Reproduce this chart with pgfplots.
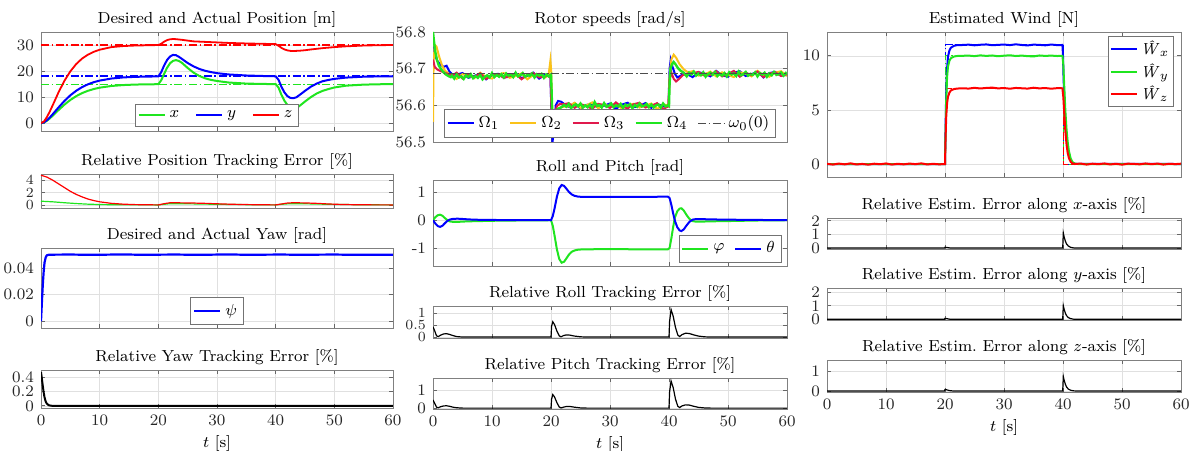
\documentclass[border=0pt]{standalone}
\usepackage{fontspec}
\usepackage{pgfplots}
\pgfplotsset{compat=1.18}
\definecolor{mblue}{rgb}{0,0,1}
\definecolor{mgreen}{rgb}{0.12,0.9,0.12}
\definecolor{mred}{rgb}{1,0,0}
\definecolor{myellow}{rgb}{0.98,0.76,0.1}
\definecolor{mcrimson}{rgb}{0.88,0.1,0.3}
\newcommand{\fs}{\fontsize{8}{9}\selectfont}
\newcommand{\fss}{\fontsize{7}{7.5}\selectfont}
\pgfplotsset{
  mystyle/.style={
    scale only axis, anchor=south west,
    xmin=0, xmax=60, xtick={0,10,20,30,40,50,60}, xticklabels={},
    grid=major, major grid style={draw=black!12, line width=0.3pt},
    axis line style={draw=black!50, line width=0.4pt},
    every tick/.style={black!60, line width=0.4pt},
    major tick length=2.2pt, tick align=inside,
    tick label style={font=\fs, text=black!85},
    title style={font=\fs, at={(0.5,1)}, anchor=south, yshift=-7.5pt},
    legend style={font=\fs, draw=black!55, line width=0.4pt, fill=white, inner sep=1.2pt,
      /tikz/every even column/.append style={column sep=3pt}},
    legend cell align=left,
    legend image code/.code={\draw[#1] (0pt,0pt) -- (13pt,0pt);},
    every axis plot/.append style={no markers},
    scaled y ticks=false,
  },
  botx/.style={xticklabels={0,10,20,30,40,50,60}, xlabel={$t$ [s]}, xlabel style={font=\fs, yshift=2pt}},
  dd/.style={dash pattern=on 4pt off 1.3pt on 0.8pt off 1.3pt},
}
\begin{document}
\begin{tikzpicture}
\useasboundingbox (0,0) rectangle (599.5pt,225pt);
% ---------------- Left column ----------------
\begin{axis}[mystyle, at={(20.5pt,159.5pt)}, width=176pt, height=49.5pt,
  ymin=-3, ymax=35, ytick={0,10,20,30}, yticklabels={0,10,20,30},
  title={Desired and Actual Position [m]},
  legend style={at={(0.5,0.04)}, anchor=south, /tikz/every even column/.append style={column sep=6pt}}, legend columns=3]
\addplot[forget plot, mred, dd, line width=0.6pt] coordinates {(0,30) (60,30)};
\addplot[forget plot, mblue, dd, line width=0.8pt] coordinates {(0,18) (60,18)};
\addplot[forget plot, mgreen, dd, line width=0.6pt] coordinates {(0,15) (60,15)};
\addplot[mgreen, line width=1pt] coordinates {(0,0) (0.5,0.26) (1,0.92) (1.5,1.83) (2,2.87) (3,5.06) (4,7.13) (5,8.91) (6,10.37) (7,11.54) (8,12.43) (9,13.11) (10,13.63) (12,14.28) (14,14.63) (16,14.82) (18,14.91) (20,14.96) (20.5,16.5) (21,19) (21.5,21.3) (22,23) (22.5,23.9) (23,24.2) (23.5,23.9) (24,23.2) (25,21.2) (26,19.4) (27,18.1) (28,17.2) (29,16.6) (30,16.2) (32,15.6) (35,15.2) (38,15.05) (40,15.0) (40.5,13.6) (41,10.8) (41.5,8.6) (42,7.0) (42.5,6.1) (43,5.8) (43.5,5.95) (44,6.5) (45,8.3) (46,10) (47,11.4) (48,12.4) (49,13.1) (50,13.7) (52,14.4) (55,14.8) (58,14.95) (60,15)};
\addlegendentry{$x$}
\addplot[mblue, line width=1pt] coordinates {(0,0) (0.5,0.32) (1,1.11) (1.5,2.2) (2,3.44) (3,6.07) (4,8.55) (5,10.69) (6,12.45) (7,13.84) (8,14.92) (9,15.74) (10,16.35) (12,17.14) (14,17.56) (16,17.78) (18,17.89) (20,17.95) (20.5,19.6) (21,22.2) (21.5,24.3) (22,25.6) (22.5,26.2) (23,26.1) (23.5,25.5) (24,24.7) (25,23.1) (26,21.8) (27,20.8) (28,20.1) (29,19.6) (30,19.2) (32,18.7) (35,18.3) (38,18.1) (40,18.0) (40.5,16.6) (41,13.9) (41.5,11.8) (42,10.4) (42.5,9.7) (43,9.6) (43.5,9.9) (44,10.7) (45,12.4) (46,14.0) (47,15.2) (48,16.1) (49,16.6) (50,17.0) (52,17.5) (55,17.85) (58,17.97) (60,18)};
\addlegendentry{$y$}
\addplot[mred, line width=0.9pt] coordinates {(0,0) (0.5,0.66) (1,2.3) (1.5,4.5) (2,6.9) (3,11.9) (4,16.3) (5,19.9) (6,22.7) (7,24.8) (8,26.3) (9,27.4) (10,28.2) (12,29.2) (14,29.6) (16,29.8) (18,29.9) (20,30) (20.5,30.5) (21,31.3) (21.5,31.9) (22,32.2) (22.5,32.3) (23,32.25) (24,32.0) (25,31.7) (26,31.4) (28,31.2) (30,31.0) (32,30.8) (35,30.6) (38,30.45) (40,30.35) (40.5,29.7) (41,28.9) (41.5,28.3) (42,27.95) (42.5,27.75) (43,27.7) (44,27.8) (45,28.0) (46,28.3) (48,28.8) (50,29.2) (52,29.5) (55,29.8) (58,29.95) (60,30)};
\addlegendentry{$z$}
\end{axis}
\begin{axis}[mystyle, at={(20.5pt,121pt)}, width=176pt, height=17pt,
  ymin=-0.5, ymax=5, ytick={0,2,4}, yticklabels={0,2,4}, yticklabel style={font=\fss},
  title={Relative Position Tracking Error [\%]}]
\addplot[mgreen, line width=0.6pt] coordinates {(0,0.6) (2,0.5) (4,0.35) (6,0.22) (8,0.12) (10,0.06) (12,0.03) (15,0.01) (20,0) (21,0.1) (22,0.2) (25,0.18) (30,0.1) (35,0.04) (40,0) (41,0.1) (42.5,0.2) (45,0.18) (50,0.08) (55,0.02) (60,0)};
\addplot[mred, line width=0.6pt] coordinates {(0,4.8) (1,4.5) (2,4.0) (3,3.4) (4,2.8) (5,2.2) (6,1.7) (7,1.3) (8,0.95) (9,0.7) (10,0.5) (12,0.25) (14,0.12) (16,0.05) (18,0.02) (20,0) (21,0.2) (22,0.35) (24,0.33) (26,0.3) (28,0.25) (30,0.18) (32,0.12) (34,0.07) (36,0.04) (38,0.02) (40,0) (41,0.15) (42,0.3) (43,0.35) (45,0.32) (47,0.25) (49,0.15) (51,0.08) (53,0.04) (56,0.01) (60,0)};
\end{axis}
\begin{axis}[mystyle, at={(20.5pt,61pt)}, width=176pt, height=40pt,
  ymin=-0.005, ymax=0.055, ytick={0,0.02,0.04}, yticklabels={0,0.02,0.04},
  title={Desired and Actual Yaw [rad]},
  legend style={at={(0.5,0.04)}, anchor=south}]
\addplot[mblue, line width=1.1pt] coordinates {(0,0) (0.15,0.014) (0.3,0.027) (0.45,0.037) (0.6,0.044) (0.8,0.048) (1.0,0.0495) (1.3,0.0499) (2,0.05) (5,0.0501) (8,0.0499) (11,0.0500) (14,0.0502) (17,0.0499) (20,0.0500) (23,0.0501) (26,0.0499) (29,0.0500) (32,0.0502) (35,0.0499) (38,0.0500) (41,0.0501) (44,0.0499) (47,0.0500) (50,0.0501) (53,0.0499) (56,0.0500) (60,0.05)};
\addlegendentry{$\psi$}
\end{axis}
\begin{axis}[mystyle, botx, at={(20.5pt,21pt)}, width=176pt, height=19pt,
  ymin=-0.03, ymax=0.5, ytick={0,0.2,0.4}, yticklabels={0,0.2,0.4},
  title={Relative Yaw Tracking Error [\%]}]
\addplot[black, line width=1pt] coordinates {(0,0.47) (0.15,0.38) (0.3,0.28) (0.45,0.19) (0.6,0.12) (0.8,0.06) (1.0,0.03) (1.3,0.01) (1.6,0.003) (2,0) (60,0)};
\end{axis}
% ---------------- Middle column ----------------
\begin{axis}[mystyle, at={(216.5pt,154pt)}, width=177pt, height=55pt,
  ymin=56.5, ymax=56.8, ytick={56.5,56.6,56.7,56.8}, yticklabels={56.5,56.6,56.7,56.8},
  title={Rotor speeds [rad/s]},
  legend style={at={(0.5,0.04)}, anchor=south}, legend columns=5]
\addplot[mblue, line width=1pt] coordinates {(0,56.760) (0.3,56.740) (0.7,56.722) (1.2,56.712) (1.8,56.705) (2.3,56.708) (2.8,56.692) (3.3,56.684) (4,56.684) (5,56.688) (6,56.675) (7,56.680) (8,56.687) (9,56.671) (10,56.683) (11,56.686) (12,56.676) (13,56.678) (14,56.688) (15,56.674) (16,56.681) (17,56.689) (18,56.673) (19,56.684) (19.9,56.683) (20.1,56.560) (20.25,56.500) (20.5,56.530) (20.8,56.600) (21.2,56.612) (21.7,56.610) (22.3,56.603) (23,56.596) (24,56.606) (25,56.591) (26,56.601) (27,56.604) (28,56.594) (29,56.599) (30,56.605) (31,56.590) (32,56.602) (33,56.607) (34,56.595) (35,56.598) (36,56.606) (37,56.593) (38,56.604) (39,56.597) (39.9,56.598) (40.1,56.700) (40.3,56.724) (40.6,56.705) (41.0,56.686) (41.4,56.676) (41.9,56.680) (42.5,56.686) (43.2,56.684) (44,56.677) (45,56.690) (46,56.687) (47,56.679) (48,56.694) (49,56.682) (50,56.678) (51,56.689) (52,56.693) (53,56.680) (54,56.685) (55,56.692) (56,56.676) (57,56.688) (58,56.691) (59,56.681) (60,56.683)};
\addlegendentry{$\Omega_1$}
\addplot[myellow, line width=1pt] coordinates {(0,56.555) (0.1,56.720) (0.3,56.765) (0.6,56.760) (1.0,56.735) (1.5,56.710) (2,56.695) (3,56.682) (4,56.672) (5,56.685) (6,56.682) (7,56.674) (8,56.689) (9,56.677) (10,56.673) (11,56.684) (12,56.688) (13,56.675) (14,56.680) (15,56.687) (16,56.671) (17,56.683) (18,56.686) (19,56.676) (19.6,56.684) (19.9,56.722) (20.05,56.690) (20.15,56.600) (20.3,56.565) (20.6,56.578) (21.0,56.590) (22.0,56.596) (23,56.597) (24,56.607) (25,56.593) (26,56.600) (27,56.608) (28,56.592) (29,56.603) (30,56.596) (31,56.606) (32,56.591) (33,56.601) (34,56.604) (35,56.594) (36,56.599) (37,56.605) (38,56.590) (39,56.602) (39.9,56.600) (40.1,56.680) (40.4,56.725) (40.8,56.738) (41.2,56.730) (41.8,56.712) (42.5,56.698) (43.2,56.690) (44,56.693) (45,56.681) (46,56.684) (47,56.692) (48,56.679) (49,56.690) (50,56.683) (51,56.677) (52,56.690) (53,56.687) (54,56.679) (55,56.694) (56,56.682) (57,56.678) (58,56.689) (59,56.693) (60,56.680)};
\addlegendentry{$\Omega_2$}
\addplot[mcrimson, line width=1pt] coordinates {(0,56.725) (0.3,56.705) (0.7,56.698) (1.2,56.694) (1.8,56.690) (2.5,56.686) (3.3,56.682) (4,56.689) (5,56.673) (6,56.684) (7,56.677) (8,56.687) (9,56.672) (10,56.682) (11,56.685) (12,56.675) (13,56.680) (14,56.686) (15,56.671) (16,56.683) (17,56.688) (18,56.676) (19,56.679) (19.9,56.681) (20.1,56.580) (20.3,56.545) (20.6,56.575) (21.0,56.598) (21.5,56.604) (22.2,56.603) (23,56.606) (24,56.593) (25,56.604) (26,56.597) (27,56.591) (28,56.604) (29,56.601) (30,56.593) (31,56.608) (32,56.596) (33,56.592) (34,56.603) (35,56.607) (36,56.594) (37,56.599) (38,56.606) (39,56.590) (39.9,56.597) (40.1,56.670) (40.4,56.690) (40.8,56.672) (41.2,56.665) (41.7,56.672) (42.3,56.682) (43.0,56.686) (44,56.688) (45,56.691) (46,56.681) (47,56.683) (48,56.693) (49,56.679) (50,56.686) (51,56.694) (52,56.678) (53,56.689) (54,56.682) (55,56.692) (56,56.677) (57,56.687) (58,56.690) (59,56.680) (60,56.685)};
\addlegendentry{$\Omega_3$}
\addplot[mgreen, line width=1.2pt] coordinates {(0,56.800) (0.2,56.770) (0.4,56.745) (0.7,56.722) (1.0,56.708) (1.4,56.698) (1.8,56.690) (2.2,56.684) (2.6,56.680) (3.0,56.677) (3.2,56.681) (3.6,56.673) (4.0,56.684) (4.4,56.676) (4.8,56.679) (5.2,56.672) (5.6,56.682) (6.0,56.677) (6.4,56.685) (6.8,56.674) (7.2,56.680) (7.6,56.675) (8.0,56.683) (8.4,56.671) (8.8,56.678) (9.2,56.682) (9.6,56.676) (10.0,56.688) (10.4,56.677) (10.8,56.683) (11.2,56.678) (11.6,56.685) (12.0,56.676) (12.4,56.687) (12.8,56.681) (13.2,56.684) (13.6,56.677) (14.0,56.689) (14.4,56.679) (14.8,56.682) (15.2,56.688) (15.6,56.678) (16.0,56.683) (16.4,56.680) (16.8,56.687) (17.2,56.676) (17.6,56.685) (18.0,56.681) (18.4,56.686) (18.8,56.675) (19.2,56.684) (19.6,56.679) (20.0,56.684) (20.1,56.640) (20.2,56.585) (20.4,56.572) (20.7,56.580) (21.0,56.588) (21.4,56.592) (21.8,56.595) (22.2,56.601) (22.6,56.596) (23.0,56.604) (23.4,56.592) (23.8,56.599) (24.2,56.603) (24.6,56.597) (25.0,56.605) (25.4,56.594) (25.8,56.600) (26.2,56.595) (26.6,56.602) (27.0,56.593) (27.4,56.609) (27.8,56.598) (28.2,56.601) (28.6,56.594) (29.0,56.606) (29.4,56.596) (29.8,56.599) (30.2,56.605) (30.6,56.595) (31.0,56.600) (31.4,56.597) (31.8,56.604) (32.2,56.593) (32.6,56.602) (33.0,56.598) (33.4,56.603) (33.8,56.592) (34.2,56.601) (34.6,56.596) (35.0,56.605) (35.4,56.597) (35.8,56.599) (36.2,56.604) (36.6,56.595) (37.0,56.602) (37.4,56.594) (37.8,56.600) (38.2,56.602) (38.6,56.594) (39.0,56.605) (39.4,56.597) (39.8,56.600) (40.0,56.598) (40.1,56.660) (40.25,56.700) (40.5,56.712) (40.8,56.718) (41.1,56.712) (41.5,56.702) (42.0,56.694) (42.5,56.689) (43.0,56.679) (43.4,56.689) (43.8,56.684) (44.2,56.692) (44.6,56.681) (45.0,56.687) (45.4,56.682) (45.8,56.690) (46.2,56.678) (46.6,56.685) (47.0,56.689) (47.4,56.683) (47.8,56.691) (48.2,56.680) (48.6,56.686) (49.0,56.681) (49.4,56.688) (49.8,56.679) (50.2,56.690) (50.6,56.684) (51.0,56.687) (51.4,56.680) (51.8,56.692) (52.2,56.682) (52.6,56.685) (53.0,56.691) (53.4,56.681) (53.8,56.686) (54.2,56.683) (54.6,56.690) (55.0,56.679) (55.4,56.688) (55.8,56.684) (56.2,56.689) (56.6,56.678) (57.0,56.687) (57.4,56.682) (57.8,56.691) (58.2,56.683) (58.6,56.685) (59.0,56.690) (59.4,56.681) (59.8,56.688) (60.0,56.684)};
\addlegendentry{$\Omega_4$}
\addplot[black!70, dd, line width=0.6pt] coordinates {(0,56.686) (60,56.686)};
\addlegendentry{$\omega_0(0)$}
\end{axis}
\begin{axis}[mystyle, at={(216.5pt,92pt)}, width=177pt, height=43pt,
  ymin=-1.65, ymax=1.45, ytick={-1,0,1}, yticklabels={-1,0,1},
  title={Roll and Pitch [rad]},
  legend style={at={(0.985,0.04)}, anchor=south east}, legend columns=2]
\addplot[mgreen, line width=1pt] coordinates {(0,0) (0.4,0.11) (0.8,0.18) (1.2,0.2) (1.6,0.16) (2.0,0.08) (2.4,0.01) (2.8,-0.04) (3.4,-0.06) (4.2,-0.06) (5,-0.05) (6,-0.04) (8,-0.03) (10,-0.02) (14,-0.01) (20,0) (20.3,-0.2) (20.6,-0.55) (21.0,-1.05) (21.4,-1.4) (21.8,-1.53) (22.2,-1.5) (22.6,-1.38) (23.0,-1.25) (23.5,-1.14) (24.0,-1.09) (24.6,-1.06) (25.5,-1.05) (30,-1.04) (35,-1.05) (39.8,-1.05) (40.1,-1.0) (40.4,-0.65) (40.7,-0.25) (41.0,0.1) (41.4,0.32) (41.8,0.42) (42.1,0.43) (42.5,0.35) (43.0,0.18) (43.5,0.04) (44.0,-0.03) (44.5,-0.05) (45.5,-0.05) (47,-0.04) (50,-0.03) (55,-0.01) (60,0)};
\addlegendentry{$\varphi$}
\addplot[mblue, line width=1pt] coordinates {(0,0) (0.4,-0.12) (0.8,-0.21) (1.2,-0.24) (1.6,-0.2) (2.0,-0.11) (2.4,-0.03) (2.8,0.02) (3.4,0.05) (4.2,0.055) (5,0.045) (6,0.03) (7,0.02) (8,0.015) (10,0.01) (14,0.0) (20,0) (20.3,0.15) (20.6,0.42) (21.0,0.85) (21.4,1.15) (21.8,1.27) (22.2,1.24) (22.6,1.14) (23.0,1.03) (23.5,0.93) (24.0,0.88) (24.6,0.85) (25.5,0.84) (30,0.84) (35,0.84) (39.8,0.85) (40.1,0.8) (40.4,0.55) (40.7,0.25) (41.0,-0.02) (41.4,-0.25) (41.8,-0.37) (42.1,-0.39) (42.5,-0.33) (43.0,-0.18) (43.5,-0.05) (44.0,0.02) (44.5,0.04) (45.5,0.04) (47,0.03) (50,0.02) (55,0.01) (60,0)};
\addlegendentry{$\theta$}
\end{axis}
\begin{axis}[mystyle, at={(216.5pt,56pt)}, width=177pt, height=16pt,
  ymin=-0.04, ymax=1.3, ytick={0,0.5,1}, yticklabels={0,0.5,1}, yticklabel style={font=\fss},
  title={Relative Roll Tracking Error [\%]}]
\addplot[black, line width=0.6pt] coordinates {(0,0.43) (0.3,0.25) (0.6,0.05) (0.9,0.02) (1.3,0.08) (1.8,0.13) (2.3,0.14) (2.8,0.11) (3.4,0.06) (4,0.02) (5,0.0) (20,0.0) (20.1,0.45) (20.3,0.64) (20.6,0.52) (21.0,0.25) (21.4,0.05) (21.7,0.01) (22.1,0.06) (22.6,0.09) (23.2,0.08) (24,0.04) (25,0.01) (26,0) (40,0) (40.1,0.65) (40.35,1.15) (40.7,0.88) (41.1,0.4) (41.5,0.08) (41.8,0.02) (42.2,0.1) (42.8,0.16) (43.4,0.15) (44.2,0.09) (45,0.04) (46,0.01) (47,0) (60,0)};
\end{axis}
\begin{axis}[mystyle, botx, at={(216.5pt,20.5pt)}, width=177pt, height=15.5pt,
  ymin=-0.05, ymax=1.67, ytick={0,1}, yticklabels={0,1},
  title={Relative Pitch Tracking Error [\%]}]
\addplot[black, line width=0.6pt] coordinates {(0,0.45) (0.3,0.25) (0.6,0.05) (0.9,0.02) (1.3,0.08) (1.8,0.12) (2.3,0.13) (2.8,0.1) (3.4,0.05) (4,0.02) (5,0) (20,0) (20.1,0.5) (20.3,0.75) (20.6,0.62) (21.0,0.3) (21.4,0.06) (21.7,0.01) (22.1,0.05) (22.6,0.09) (23.2,0.09) (24,0.05) (25,0.01) (26,0) (40,0) (40.1,0.9) (40.35,1.5) (40.7,1.15) (41.1,0.5) (41.5,0.1) (41.8,0.03) (42.2,0.12) (42.8,0.18) (43.4,0.17) (44.2,0.1) (45,0.04) (46,0.01) (47,0) (60,0)};
\end{axis}
% ---------------- Right column ----------------
\begin{axis}[mystyle, at={(413.5pt,136.5pt)}, width=177pt, height=72.5pt,
  ymin=-1.2, ymax=12.2, ytick={0,5,10}, yticklabels={0,5,10},
  title={Estimated Wind [N]},
  legend style={at={(0.98,0.97)}, anchor=north east, inner sep=0.8pt, row sep=0pt, nodes={inner sep=1.4pt}}]
\addplot[forget plot, mblue, dd, line width=0.5pt] coordinates {(0,0) (20,0) (20,11) (40,11) (40,0) (60,0)};
\addplot[forget plot, mgreen, dd, line width=0.5pt] coordinates {(0,0) (20,0) (20,10) (40,10) (40,0) (60,0)};
\addplot[forget plot, mred, dd, line width=0.5pt] coordinates {(0,0) (20,0) (20,7) (40,7) (40,0) (60,0)};
\addplot[mblue, line width=1pt] coordinates {(0,0) (20,0) (20.1,3.5) (20.2,6.5) (20.35,8.8) (20.5,9.9) (20.75,10.5) (21,10.75) (21.5,10.92) (22,10.98) (23,11.0) (24,11.03) (25,10.97) (26,11.02) (27,11.05) (28,10.98) (29,11.01) (30,11.04) (31,10.99) (32,11.06) (33,11.0) (34,10.96) (35,11.03) (36,11.01) (37,10.97) (38,11.04) (39,10.99) (39.9,11.0) (40.0,10.0) (40.1,7.8) (40.3,5.0) (40.5,3.1) (40.7,1.9) (40.9,1.1) (41.2,0.45) (41.5,0.15) (42,0.02) (60,0)};
\addlegendentry{\textit{Ŵ}$_x$}
\addplot[mgreen, line width=1pt] coordinates {(0,0) (20,0) (20.1,3.0) (20.2,5.8) (20.35,8.0) (20.5,9.0) (20.75,9.55) (21,9.78) (21.5,9.93) (22,9.98) (23,10.0) (24,10.02) (25,9.97) (26,10.04) (27,9.99) (28,10.03) (29,9.96) (30,10.01) (31,10.05) (32,9.98) (33,10.02) (34,9.97) (35,9.94) (36,10.03) (37,9.99) (38,10.02) (39,9.98) (39.9,10.0) (40.05,9.2) (40.2,7.3) (40.4,4.9) (40.6,3.2) (40.8,2.0) (41.0,1.2) (41.3,0.5) (41.6,0.18) (42,0.04) (42.5,0) (60,0)};
\addlegendentry{\textit{Ŵ}$_y$}
\addplot[mred, line width=1pt] coordinates {(0,0.02) (1,-0.05) (2,0.04) (3,-0.03) (4,0.06) (5,-0.04) (6,0.01) (7,-0.06) (8,0.03) (9,-0.02) (10,0.05) (11,-0.05) (12,0.02) (13,-0.03) (14,0.04) (15,-0.01) (16,0.06) (17,-0.04) (18,0.02) (19,-0.03) (20,0.0) (20.1,2.5) (20.2,4.3) (20.35,5.6) (20.5,6.2) (20.75,6.6) (21,6.8) (21.5,6.92) (22,6.97) (23,7.0) (24,6.97) (25,7.04) (26,6.98) (27,7.03) (28,7.06) (29,6.99) (30,7.02) (31,6.96) (32,7.03) (33,7.0) (34,6.97) (35,7.05) (36,6.99) (37,7.02) (38,6.96) (39,7.01) (39.9,7.0) (40.05,6.2) (40.2,4.8) (40.4,3.0) (40.6,1.8) (40.8,1.0) (41.0,0.55) (41.3,0.2) (41.6,0.06) (42,0.0) (43,0.04) (44,-0.05) (45,0.03) (46,-0.02) (47,0.05) (48,-0.04) (49,0.02) (50,-0.06) (51,0.03) (52,0.01) (53,-0.03) (54,0.05) (55,-0.02) (56,0.04) (57,-0.05) (58,0.02) (59,-0.01) (60,0.03)};
\addlegendentry{\textit{Ŵ}$_z$}
\end{axis}
\begin{axis}[mystyle, at={(413.5pt,100.5pt)}, width=177pt, height=15.5pt,
  ymin=-0.07, ymax=2.2, ytick={0,1,2}, yticklabels={0,1,2},
  title={Relative Estim.\ Error along $x$-axis [\%]}]
\addplot[black, line width=0.6pt] coordinates {(0,0) (19.9,0) (20,0.06) (20.3,0.04) (20.8,0.01) (21.5,0) (39.95,0) (40.05,1.1) (40.2,0.8) (40.4,0.5) (40.6,0.3) (40.9,0.15) (41.3,0.05) (41.8,0.01) (42.5,0) (60,0)};
\end{axis}
\begin{axis}[mystyle, at={(413.5pt,65pt)}, width=177pt, height=16pt,
  ymin=-0.05, ymax=2.3, ytick={0,1,2}, yticklabels={0,1,2},
  title={Relative Estim.\ Error along $y$-axis [\%]}]
\addplot[black, line width=0.6pt] coordinates {(0,0) (19.9,0) (20,0.07) (20.3,0.05) (20.8,0.01) (21.5,0) (39.95,0) (40.05,1.0) (40.2,0.72) (40.4,0.45) (40.6,0.27) (40.9,0.13) (41.3,0.05) (41.8,0.01) (42.5,0) (60,0)};
\end{axis}
\begin{axis}[mystyle, botx, at={(413.5pt,29pt)}, width=177pt, height=16pt,
  ymin=-0.05, ymax=1.6, ytick={0,1}, yticklabels={0,1},
  title={Relative Estim.\ Error along $z$-axis [\%]}]
\addplot[black, line width=0.6pt] coordinates {(0,0) (19.9,0) (20,0.08) (20.3,0.06) (20.8,0.02) (21.5,0) (39.95,0) (40.05,0.75) (40.2,0.55) (40.4,0.35) (40.6,0.21) (40.9,0.1) (41.3,0.04) (41.8,0.01) (42.5,0) (60,0)};
\end{axis}
\end{tikzpicture}
\end{document}
